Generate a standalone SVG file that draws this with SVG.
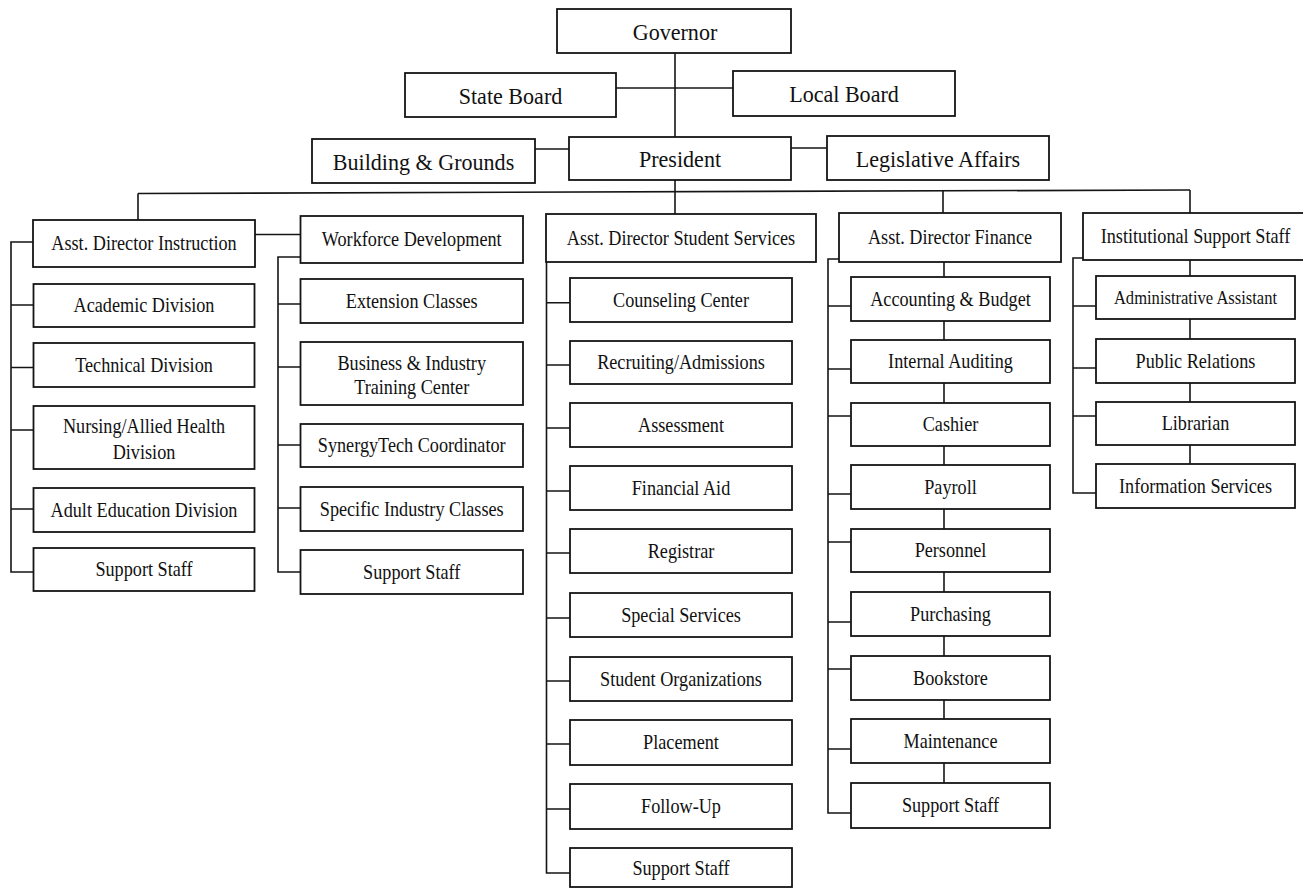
<svg xmlns="http://www.w3.org/2000/svg" width="1303" height="890" viewBox="0 0 1303 890">
<style>
  rect.b { fill: #ffffff; stroke: #151515; stroke-width: 1.8; }
  .c path { fill: none; stroke: #151515; stroke-width: 1.6; }
  text { font-family: "Liberation Serif", "Times New Roman", serif; font-size: 20px; text-anchor: middle; fill: #111111; }
  text.t { font-family: "Liberation Serif", "Times New Roman", serif; font-size: 23px; }
  text.s { font-family: "Liberation Serif", "Times New Roman", serif; font-size: 18px; }
</style>
<rect x="0" y="0" width="1303" height="890" fill="#ffffff"/>

<g class="c" id="connectors">
  <path d="M675,53 V137"/>
  <path d="M616,88 H733"/>
  <path d="M535,149 H569"/>
  <path d="M791,148 H827"/>
  <path d="M675,180 V192"/>
  <path d="M138,193.5 L1190,190"/>
  <path d="M138,193.5 V220"/>
  <path d="M675,192 V214"/>
  <path d="M943,190.5 V213"/>
  <path d="M1190,190 V213"/>
  <path d="M255,234.5 H300.5"/>
  <path d="M33,242 H11 V572 H33"/>
  <path d="M11,305 H33 M11,367.5 H33 M11,430 H33 M11,509 H33"/>
  <path d="M300.5,257 H278 V572 H300.5"/>
  <path d="M278,304 H300.5 M278,367 H300.5 M278,445 H300.5 M278,508 H300.5"/>
  <path d="M546.5,262 V873 H570"/>
  <path d="M546.5,302.7 H570 M546.5,365 H570 M546.5,428 H570 M546.5,491 H570 M546.5,553 H570 M546.5,618 H570 M546.5,681 H570 M546.5,744 H570 M546.5,809 H570"/>
  <path d="M839,259 H828 V813 H851"/>
  <path d="M828,306 H851 M828,369 H851 M828,416 H851 M828,494 H851 M828,542 H851 M828,622 H851 M828,669 H851 M828,749 H851"/>
  <path d="M944,262 V783"/>
  <path d="M1083,258 H1073 V493 H1096"/>
  <path d="M1073,306 H1096 M1073,368 H1096 M1073,416 H1096"/>
  <path d="M1190,260 V464"/>
</g>

<g id="governor"><rect class="b" x="557" y="9" width="234" height="44"/><text class="t" transform="translate(675 39.5) scale(0.96 1)">Governor</text></g>
<g id="state-board"><rect class="b" x="405" y="73" width="211" height="44"/><text class="t" transform="translate(510.5 103.5) scale(0.96 1)">State Board</text></g>
<g id="local-board"><rect class="b" x="733" y="71" width="222" height="45"/><text class="t" transform="translate(844 102) scale(0.96 1)">Local Board</text></g>
<g id="building-grounds"><rect class="b" x="312" y="139" width="223" height="44"/><text class="t" transform="translate(423.5 169.5) scale(0.96 1)">Building &amp; Grounds</text></g>
<g id="president"><rect class="b" x="569" y="137" width="222" height="43"/><text class="t" transform="translate(680 167) scale(0.96 1)">President</text></g>
<g id="legislative-affairs"><rect class="b" x="827" y="136" width="222" height="44"/><text class="t" transform="translate(938 166.5) scale(0.96 1)">Legislative Affairs</text></g>

<g id="asst-instruction"><rect class="b" x="33" y="220" width="222" height="47"/><text transform="translate(144 250) scale(0.91 1)">Asst. Director Instruction</text></g>
<g id="workforce"><rect class="b" x="300.5" y="216" width="222.5" height="47"/><text transform="translate(411.7 246) scale(0.91 1)">Workforce Development</text></g>
<g id="asst-student-services"><rect class="b" x="546" y="214" width="270" height="48"/><text transform="translate(681 244.5) scale(0.91 1)">Asst. Director Student Services</text></g>
<g id="asst-finance"><rect class="b" x="839" y="213" width="222" height="49"/><text transform="translate(950 244) scale(0.91 1)">Asst. Director Finance</text></g>
<g id="institutional"><rect class="b" x="1083" y="213" width="230" height="47"/><text transform="translate(1195.5 243) scale(0.91 1)">Institutional Support Staff</text></g>

<g id="academic"><rect class="b" x="33.5" y="284" width="221" height="43"/><text transform="translate(144 312) scale(0.91 1)">Academic Division</text></g>
<g id="technical"><rect class="b" x="33.5" y="343" width="221" height="44"/><text transform="translate(144 371.5) scale(0.91 1)">Technical Division</text></g>
<g id="nursing"><rect class="b" x="33.5" y="406" width="221" height="63"/><text transform="translate(144 433) scale(0.91 1)">Nursing/Allied Health</text><text transform="translate(144 459) scale(0.91 1)">Division</text></g>
<g id="adult-ed"><rect class="b" x="33.5" y="488" width="221" height="44"/><text transform="translate(144 516.5) scale(0.91 1)">Adult Education Division</text></g>
<g id="instr-support"><rect class="b" x="33.5" y="548" width="221" height="43"/><text transform="translate(144 576) scale(0.91 1)">Support Staff</text></g>

<g id="extension"><rect class="b" x="300.5" y="279" width="222.5" height="44"/><text transform="translate(411.7 307.5) scale(0.91 1)">Extension Classes</text></g>
<g id="business-industry"><rect class="b" x="300.5" y="342" width="222.5" height="63"/><text transform="translate(411.7 369.5) scale(0.91 1)">Business &amp; Industry</text><text transform="translate(411.7 394) scale(0.91 1)">Training Center</text></g>
<g id="synergytech"><rect class="b" x="300.5" y="424" width="222.5" height="43"/><text transform="translate(411.7 452) scale(0.91 1)">SynergyTech Coordinator</text></g>
<g id="specific-industry"><rect class="b" x="300.5" y="487" width="222.5" height="44"/><text transform="translate(411.7 515.5) scale(0.91 1)">Specific Industry Classes</text></g>
<g id="wf-support"><rect class="b" x="300.5" y="550" width="222.5" height="44"/><text transform="translate(411.7 578.5) scale(0.91 1)">Support Staff</text></g>

<g id="counseling"><rect class="b" x="570" y="278" width="222" height="44"/><text transform="translate(681 306.5) scale(0.91 1)">Counseling Center</text></g>
<g id="recruiting"><rect class="b" x="570" y="341" width="222" height="43"/><text transform="translate(681 369) scale(0.91 1)">Recruiting/Admissions</text></g>
<g id="assessment"><rect class="b" x="570" y="403" width="222" height="44"/><text transform="translate(681 431.5) scale(0.91 1)">Assessment</text></g>
<g id="financial-aid"><rect class="b" x="570" y="466" width="222" height="44"/><text transform="translate(681 494.5) scale(0.91 1)">Financial Aid</text></g>
<g id="registrar"><rect class="b" x="570" y="529" width="222" height="44"/><text transform="translate(681 557.5) scale(0.91 1)">Registrar</text></g>
<g id="special-services"><rect class="b" x="570" y="593" width="222" height="44"/><text transform="translate(681 621.5) scale(0.91 1)">Special Services</text></g>
<g id="student-orgs"><rect class="b" x="570" y="657" width="222" height="44"/><text transform="translate(681 685.5) scale(0.91 1)">Student Organizations</text></g>
<g id="placement"><rect class="b" x="570" y="720" width="222" height="45"/><text transform="translate(681 749) scale(0.91 1)">Placement</text></g>
<g id="follow-up"><rect class="b" x="570" y="784" width="222" height="45"/><text transform="translate(681 813) scale(0.91 1)">Follow-Up</text></g>
<g id="ss-support"><rect class="b" x="570" y="848" width="222" height="39"/><text transform="translate(681 874.5) scale(0.91 1)">Support Staff</text></g>

<g id="accounting"><rect class="b" x="851" y="277" width="199" height="44"/><text transform="translate(950.5 305.5) scale(0.91 1)">Accounting &amp; Budget</text></g>
<g id="internal-auditing"><rect class="b" x="851" y="340" width="199" height="43"/><text transform="translate(950.5 368) scale(0.91 1)">Internal Auditing</text></g>
<g id="cashier"><rect class="b" x="851" y="403" width="199" height="43"/><text transform="translate(950.5 431) scale(0.91 1)">Cashier</text></g>
<g id="payroll"><rect class="b" x="851" y="465" width="199" height="44"/><text transform="translate(950.5 493.5) scale(0.91 1)">Payroll</text></g>
<g id="personnel"><rect class="b" x="851" y="529" width="199" height="43"/><text transform="translate(950.5 557) scale(0.91 1)">Personnel</text></g>
<g id="purchasing"><rect class="b" x="851" y="592" width="199" height="44"/><text transform="translate(950.5 620.5) scale(0.91 1)">Purchasing</text></g>
<g id="bookstore"><rect class="b" x="851" y="656" width="199" height="44"/><text transform="translate(950.5 684.5) scale(0.91 1)">Bookstore</text></g>
<g id="maintenance"><rect class="b" x="851" y="719" width="199" height="44"/><text transform="translate(950.5 747.5) scale(0.91 1)">Maintenance</text></g>
<g id="fin-support"><rect class="b" x="851" y="783" width="199" height="45"/><text transform="translate(950.5 812) scale(0.91 1)">Support Staff</text></g>

<g id="admin-assistant"><rect class="b" x="1096" y="276" width="199" height="43"/><text class="s" transform="translate(1195.5 303.5) scale(0.92 1)">Administrative Assistant</text></g>
<g id="public-relations"><rect class="b" x="1096" y="339" width="199" height="44"/><text transform="translate(1195.5 367.5) scale(0.91 1)">Public Relations</text></g>
<g id="librarian"><rect class="b" x="1096" y="402" width="199" height="43"/><text transform="translate(1195.5 430) scale(0.91 1)">Librarian</text></g>
<g id="information-services"><rect class="b" x="1096" y="464" width="199" height="44"/><text transform="translate(1195.5 492.5) scale(0.91 1)">Information Services</text></g>
</svg>
